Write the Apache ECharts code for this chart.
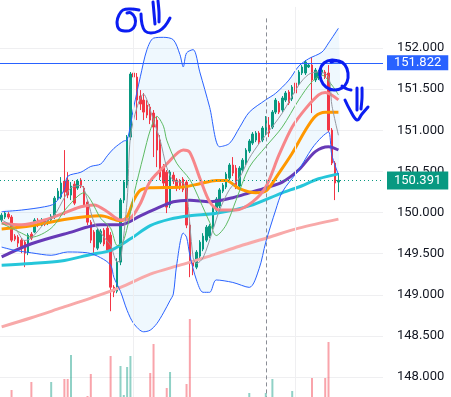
<!DOCTYPE html>
<html>
<head>
<meta charset="utf-8">
<script src="https://cdn.jsdelivr.net/npm/echarts@6.0.0/dist/echarts.min.js"></script>
<style>
  html, body { margin: 0; padding: 0; background: #fff; }
  #chart { width: 451px; height: 397px; }
</style>
</head>
<body>
<div id="chart"></div>
<script>
// time slots (103 bars + empty space on the right)
const slotCount = 116;
const slots = Array.from({ length: slotCount }, (_, i) => String(i));

const alertPrice = 151.822;
const lastPrice = 150.391;
const priceRange = [147.757, 152.5];

// [open, close, low, high]
const candles = [
  [149.908, 149.968, 149.883, 149.993], [149.944, 149.993, 149.920, 150.017], [149.981, 149.944, 149.920, 150.005],
  [149.944, 149.664, 149.640, 149.968], [149.713, 149.676, 149.652, 149.737], [149.701, 149.628, 149.579, 149.725],
  [149.664, 149.579, 149.506, 149.689], [149.640, 149.506, 149.336, 149.664], [149.518, 149.725, 149.482, 149.749],
  [149.737, 149.689, 149.664, 149.762], [149.762, 149.908, 149.749, 149.932], [149.908, 149.847, 149.822, 149.932],
  [149.859, 149.895, 149.835, 149.932], [149.895, 149.859, 149.835, 149.920], [149.871, 149.920, 149.847, 149.932],
  [149.908, 149.956, 149.883, 149.981], [149.944, 150.175, 149.920, 150.200], [150.175, 150.260, 150.151, 150.297],
  [150.187, 150.358, 150.163, 150.431], [150.382, 150.248, 149.968, 150.759], [150.394, 150.212, 150.175, 150.491],
  [150.212, 150.321, 150.151, 150.370], [150.345, 150.114, 150.090, 150.382], [150.297, 150.382, 150.275, 150.406],
  [150.394, 150.321, 150.297, 150.418], [150.297, 150.090, 150.066, 150.321], [150.127, 149.883, 149.847, 150.151],
  [149.883, 149.664, 149.628, 149.908], [149.762, 149.579, 149.482, 149.786], [149.567, 149.786, 149.543, 149.810],
  [149.640, 149.774, 149.616, 149.798], [149.786, 149.616, 149.591, 149.810], [149.810, 149.543, 149.518, 149.835],
  [149.725, 149.092, 148.800, 149.762], [149.092, 149.032, 148.971, 149.117], [149.044, 149.397, 149.019, 149.445],
  [149.397, 150.151, 149.360, 150.175], [150.151, 150.370, 150.114, 150.394], [150.333, 150.917, 150.297, 150.942],
  [150.917, 151.684, 150.881, 151.708], [151.696, 151.647, 151.623, 151.732], [151.647, 151.367, 151.124, 151.696],
  [151.416, 151.319, 151.246, 151.489], [151.367, 151.221, 151.124, 151.453], [151.307, 151.185, 151.148, 151.367],
  [151.282, 151.124, 151.075, 151.319], [151.209, 151.039, 150.674, 151.246], [151.124, 150.759, 150.552, 151.161],
  [150.881, 150.431, 150.394, 150.942], [150.552, 150.358, 150.321, 150.589], [150.491, 150.066, 149.993, 150.516],
  [150.090, 150.491, 150.054, 150.516], [150.455, 150.382, 150.345, 150.491], [150.394, 150.297, 150.260, 150.418],
  [150.382, 150.321, 150.275, 150.406], [150.406, 150.275, 150.248, 150.431], [150.370, 149.847, 149.810, 150.394],
  [149.847, 149.384, 149.214, 149.883], [149.397, 149.348, 149.238, 149.421], [149.336, 149.518, 149.311, 149.543],
  [149.470, 149.640, 149.445, 149.664], [149.555, 149.713, 149.530, 149.749], [149.664, 149.822, 149.640, 149.847],
  [149.713, 149.835, 149.689, 149.859], [149.822, 150.054, 149.798, 150.078], [150.029, 150.163, 150.005, 150.187],
  [150.078, 150.275, 150.054, 150.297], [150.260, 150.333, 150.236, 150.358], [150.309, 150.467, 150.285, 150.491],
  [150.418, 150.577, 150.394, 150.601], [150.577, 150.479, 150.443, 150.674], [150.540, 150.321, 150.285, 150.577],
  [150.321, 150.540, 150.297, 150.564], [150.516, 150.637, 150.491, 150.662], [150.601, 150.759, 150.577, 150.783],
  [150.747, 150.869, 150.723, 150.893], [150.844, 150.954, 150.820, 150.978], [150.881, 150.966, 150.856, 150.990],
  [150.966, 150.856, 150.832, 150.990], [150.881, 151.027, 150.856, 151.051], [150.966, 151.148, 150.942, 151.173],
  [151.063, 150.966, 150.917, 151.161], [151.039, 151.221, 151.015, 151.246], [151.221, 151.367, 151.197, 151.392],
  [151.331, 151.221, 151.197, 151.355], [151.246, 151.392, 151.221, 151.416], [151.367, 151.453, 151.343, 151.477],
  [151.465, 151.331, 151.307, 151.489], [151.380, 151.526, 151.355, 151.550], [151.574, 151.453, 151.428, 151.647],
  [151.562, 151.708, 151.538, 151.732], [151.696, 151.769, 151.672, 151.793], [151.696, 151.830, 151.672, 151.854],
  [151.769, 151.793, 151.757, 151.818], [151.793, 151.611, 151.209, 151.891], [151.611, 151.732, 151.586, 151.757],
  [151.635, 151.708, 151.611, 151.732], [151.696, 151.732, 151.672, 151.757], [151.708, 151.647, 151.623, 151.732],
  [151.696, 151.002, 150.978, 151.793], [151.002, 150.601, 150.577, 151.027], [150.601, 150.358, 150.151, 150.625],
  [150.370, 150.391, 150.248, 150.479]
];

const volume = [
  14, 10, 12, 30, 9, 13, 15, 20, 18, 34, 16, 11, 8, 9, 10, 34, 22, 14, 21, 35.5,
  35.5, 47.5, 20, 12, 11, 19, 27, 38, 22, 17, 13, 15, 19, 47, 21, 24, 42, 27.5, 41.5, 47,
  23, 24, 18, 16, 14, 38.5, 53, 24, 22, 17, 31, 39, 14, 12, 11, 13, 33, 65.5, 21, 18,
  15, 14, 12, 11, 16, 13, 14, 10, 12, 11, 13, 15, 12, 10, 11, 28.5, 12, 9, 10, 11,
  28.5, 14, 35.5, 16, 12, 13, 10, 14, 29.5, 15, 16, 12, 14, 11, 36, 13, 10, 9, 36, 54,
  24, 22, 8
];
// only the tall volume bars rise into view
const volumeRange = [26.5, 100];

// moving averages: [slot, price]
const maFast = [[0,149.91],[4,149.81],[7,149.66],[9,149.69],[13,149.87],[16,149.97],[19,150.18],[21,150.30],[24,150.33],[26,150.15],[28,149.88],[31,149.70],[33,149.60],[35,149.40],[36,149.42],[38,150.15],[39,150.92],[41,151.28],[43,151.44],[44,151.37],[46,151.12],[48,150.88],[50,150.55],[52,150.39],[55,150.36],[56,150.27],[58,149.45],[59,149.38],[61,149.45],[64,149.79],[66,150.03],[69,150.28],[72,150.42],[75,150.66],[78,150.84],[80,150.94],[85,151.21],[90,151.55],[93,151.68],[96,151.71],[99,151.65],[100,151.31],[102,150.94]];
const ma10 = [[0,149.87],[6,149.75],[9,149.70],[15,149.81],[20,150.07],[25,150.24],[27,150.15],[30,149.93],[33,149.81],[35,149.60],[36,149.60],[38,149.81],[40,150.21],[43,150.70],[45,151.00],[47,151.17],[49,151.05],[50,150.88],[53,150.60],[57,150.40],[60,150.15],[63,149.88],[65,149.72],[68,149.85],[71,150.15],[75,150.55],[80,150.80],[85,151.04],[90,151.37],[94,151.59],[97,151.67],[100,151.55],[102,151.43]];
const ma25 = [[0,149.87],[6,149.85],[13,149.91],[20,150.01],[24,150.07],[28,150.09],[32,150.01],[36,149.91],[39,149.93],[42,150.11],[45,150.38],[50,150.59],[55,150.76],[57,150.73],[60,150.42],[63,150.13],[66,150.03],[71,150.03],[76,150.13],[80,150.31],[84,150.70],[88,151.04],[92,151.26],[96,151.43],[98,151.46],[102,151.37]];
const ma50 = [[0,149.80],[9,149.84],[20,149.92],[30,149.96],[36,149.90],[38,149.95],[40,150.15],[42,150.27],[45,150.30],[55,150.31],[60,150.35],[65,150.39],[68,150.39],[72,150.29],[77,150.24],[80,150.26],[84,150.48],[88,150.72],[92,151.00],[95,151.17],[98,151.22],[102,151.22]];
const ma75 = [[0,149.46],[9,149.62],[20,149.75],[30,149.85],[36,149.85],[42,149.96],[47,150.05],[52,150.13],[57,150.15],[63,150.13],[70,150.18],[75,150.24],[80,150.30],[85,150.37],[90,150.52],[95,150.74],[99,150.80],[102,150.76]];
const ma100 = [[0,149.36],[9,149.38],[18,149.41],[27,149.49],[33,149.54],[39,149.68],[45,149.84],[51,149.92],[57,149.96],[65,149.99],[75,150.08],[85,150.24],[90,150.31],[96,150.41],[102,150.47]];
const ma200 = [[0,148.61],[9,148.72],[18,148.84],[27,148.96],[36,149.09],[45,149.25],[54,149.36],[63,149.47],[72,149.59],[81,149.70],[90,149.81],[102,149.92]];
const bbUpper = [[0,150.01],[6,150.03],[13,150.07],[16,150.11],[19,150.28],[20,150.44],[24,150.49],[27,150.56],[30,150.59],[32,150.69],[34,150.78],[37,150.87],[38,150.88],[40,151.28],[42,151.65],[44,151.98],[46,152.12],[49,152.13],[52,152.10],[54,151.92],[55,151.77],[56,151.94],[58,151.98],[60,151.71],[63,151.28],[66,150.80],[69,150.84],[72,151.03],[75,151.22],[80,151.37],[83,151.45],[87,151.61],[90,151.78],[93,151.87],[97,151.95],[99,152.06],[102,152.24]];
const bbLower = [[0,149.58],[4,149.54],[9,149.51],[15,149.48],[20,149.52],[26,149.51],[30,149.45],[33,149.36],[34,149.21],[36,149.04],[38,148.81],[40,148.65],[43,148.55],[45,148.57],[47,148.65],[49,148.78],[51,148.93],[52,149.01],[53,149.36],[55,149.75],[56,149.70],[57,149.48],[59,149.18],[61,149.03],[63,149.03],[65,149.18],[70,149.15],[75,149.09],[78,149.32],[80,149.64],[83,150.03],[85,150.25],[90,150.52],[94,150.78],[97,150.92],[99,150.98],[100,150.70],[102,150.46]];

const font = 'Roboto, "Noto Sans", sans-serif';
const up = '#089981';
const down = '#F23645';
const ink = { stroke: '#0B1DF2', lineWidth: 3, fill: null, lineCap: 'round', lineJoin: 'round' };

function maLine(name, data, color, width) {
  return {
    name: name, type: 'line', data: data, symbol: 'none', smooth: 0.3, z: 3, silent: true,
    lineStyle: { color: color, width: width }
  };
}

function scribble(points, smooth) {
  return { type: 'polyline', z: 100, silent: true, shape: { points: points, smooth: smooth }, style: ink };
}

const chart = echarts.init(document.getElementById('chart'));
chart.setOption({
  animation: false,
  backgroundColor: '#fff',
  grid: [
    { left: 0, right: 68, top: 6.9, bottom: 0 },
    { left: 0, right: 68, top: 250, bottom: 0 }
  ],
  xAxis: [
    { type: 'category', data: slots, gridIndex: 0, axisLine: { show: false }, axisTick: { show: false },
      axisLabel: { show: false }, splitLine: { show: false } },
    { type: 'category', data: slots, gridIndex: 1, show: false }
  ],
  yAxis: [
    { type: 'value', gridIndex: 0, position: 'right', min: priceRange[0], max: priceRange[1],
      splitNumber: 10, minInterval: 0.5, maxInterval: 0.5,
      axisLine: { show: false }, axisTick: { show: false },
      axisLabel: { margin: 14, color: '#131722', fontSize: 13, fontFamily: font,
        showMinLabel: false, showMaxLabel: false, formatter: v => v.toFixed(3) },
      splitLine: { showMinLine: false, showMaxLine: false, lineStyle: { color: '#EFEFF1', width: 1 } } },
    { type: 'value', gridIndex: 1, min: volumeRange[0], max: volumeRange[1], show: false }
  ],
  graphic: [
    scribble([[139,10],[131,9],[123,10],[119,15],[117,22],[119,29],[125,31],[131,30],[135,25],[135,18],[131,13],[127,13]], 0.4),
    scribble([[141,14],[142,24],[145,31],[151,33],[159,31],[165,26],[170,18]], 0.4),
    scribble([[153,2],[154,13],[155,24]], 0.3),
    scribble([[158,1],[159,12],[159,22]], 0.3),
    scribble([[340,62],[332,60],[324,63],[320,70],[321,80],[326,87],[334,90],[342,88],[347,82],[348,73],[345,65],[339,61],[331,62]], 0.4),
    scribble([[342,86],[347,89],[351,90]], 0.3),
    scribble([[357,88],[357,99],[357,110]], 0.3),
    scribble([[362,88],[362,98],[361,109]], 0.3),
    scribble([[345,100],[350,110],[357,120],[362,114],[368,107]], 0.4)
  ],
  series: [
    {
      type: 'bar', xAxisIndex: 1, yAxisIndex: 1, data: volume, barWidth: 2, z: 0, silent: true, clip: true,
      itemStyle: {
        color: p => candles[p.dataIndex][1] >= candles[p.dataIndex][0]
          ? 'rgba(8,153,129,0.45)' : 'rgba(242,54,69,0.45)'
      }
    },
    {
      type: 'custom', xAxisIndex: 0, yAxisIndex: 0, z: 1, silent: true,
      data: [[0, bbUpper[0][1]]],
      renderItem: (params, api) => {
        const pts = bbUpper.map(p => api.coord(p))
          .concat(bbLower.slice().reverse().map(p => api.coord(p)));
        return { type: 'polygon', shape: { points: pts, smooth: 0.3 }, style: { fill: 'rgba(33,150,243,0.07)' } };
      }
    },
    {
      type: 'candlestick', data: candles, z: 2, barWidth: 2, silent: true,
      itemStyle: { color: up, color0: down, borderColor: up, borderColor0: down, borderWidth: 1 },
      markLine: {
        symbol: ['none', 'none'], silent: true,
        data: [
          { xAxis: 40, lineStyle: { color: '#EFEFF1', width: 1, type: 'solid' }, label: { show: false } },
          { xAxis: 89, lineStyle: { color: '#EFEFF1', width: 1, type: 'solid' }, label: { show: false } },
          [
            { coord: ['80', 152.36], lineStyle: { color: '#8A8D95', width: 1, type: [4, 3] }, label: { show: false } },
            { coord: ['80', priceRange[0]] }
          ],
          { yAxis: alertPrice, lineStyle: { color: '#2962FF', width: 1, type: 'solid' },
            label: { show: true, position: 'end', distance: 4, formatter: alertPrice.toFixed(3),
              color: '#fff', backgroundColor: '#2962FF', padding: [1, 7, 1, 7], fontSize: 13,
              lineHeight: 13, fontFamily: font } },
          { yAxis: lastPrice, lineStyle: { color: up, width: 1, type: [1, 3] },
            label: { show: true, position: 'end', distance: 4, formatter: lastPrice.toFixed(3),
              color: '#fff', backgroundColor: up, padding: [3, 7, 2, 7], fontSize: 13,
              lineHeight: 13, fontFamily: font } }
        ]
      }
    },
    maLine('MA200', ma200, '#F8A9A9', 3),
    maLine('MA100', ma100, '#26C6DA', 3),
    maLine('MA75', ma75, '#673AB7', 3),
    maLine('MA50', ma50, '#FF9800', 3),
    maLine('MA25', ma25, '#F7868A', 3),
    maLine('MA10', ma10, '#5DBB63', 1),
    maLine('MA5', maFast, '#9598A1', 1),
    maLine('BB upper', bbUpper, '#2962FF', 1),
    maLine('BB lower', bbLower, '#2962FF', 1)
  ]
});
</script>
</body>
</html>
